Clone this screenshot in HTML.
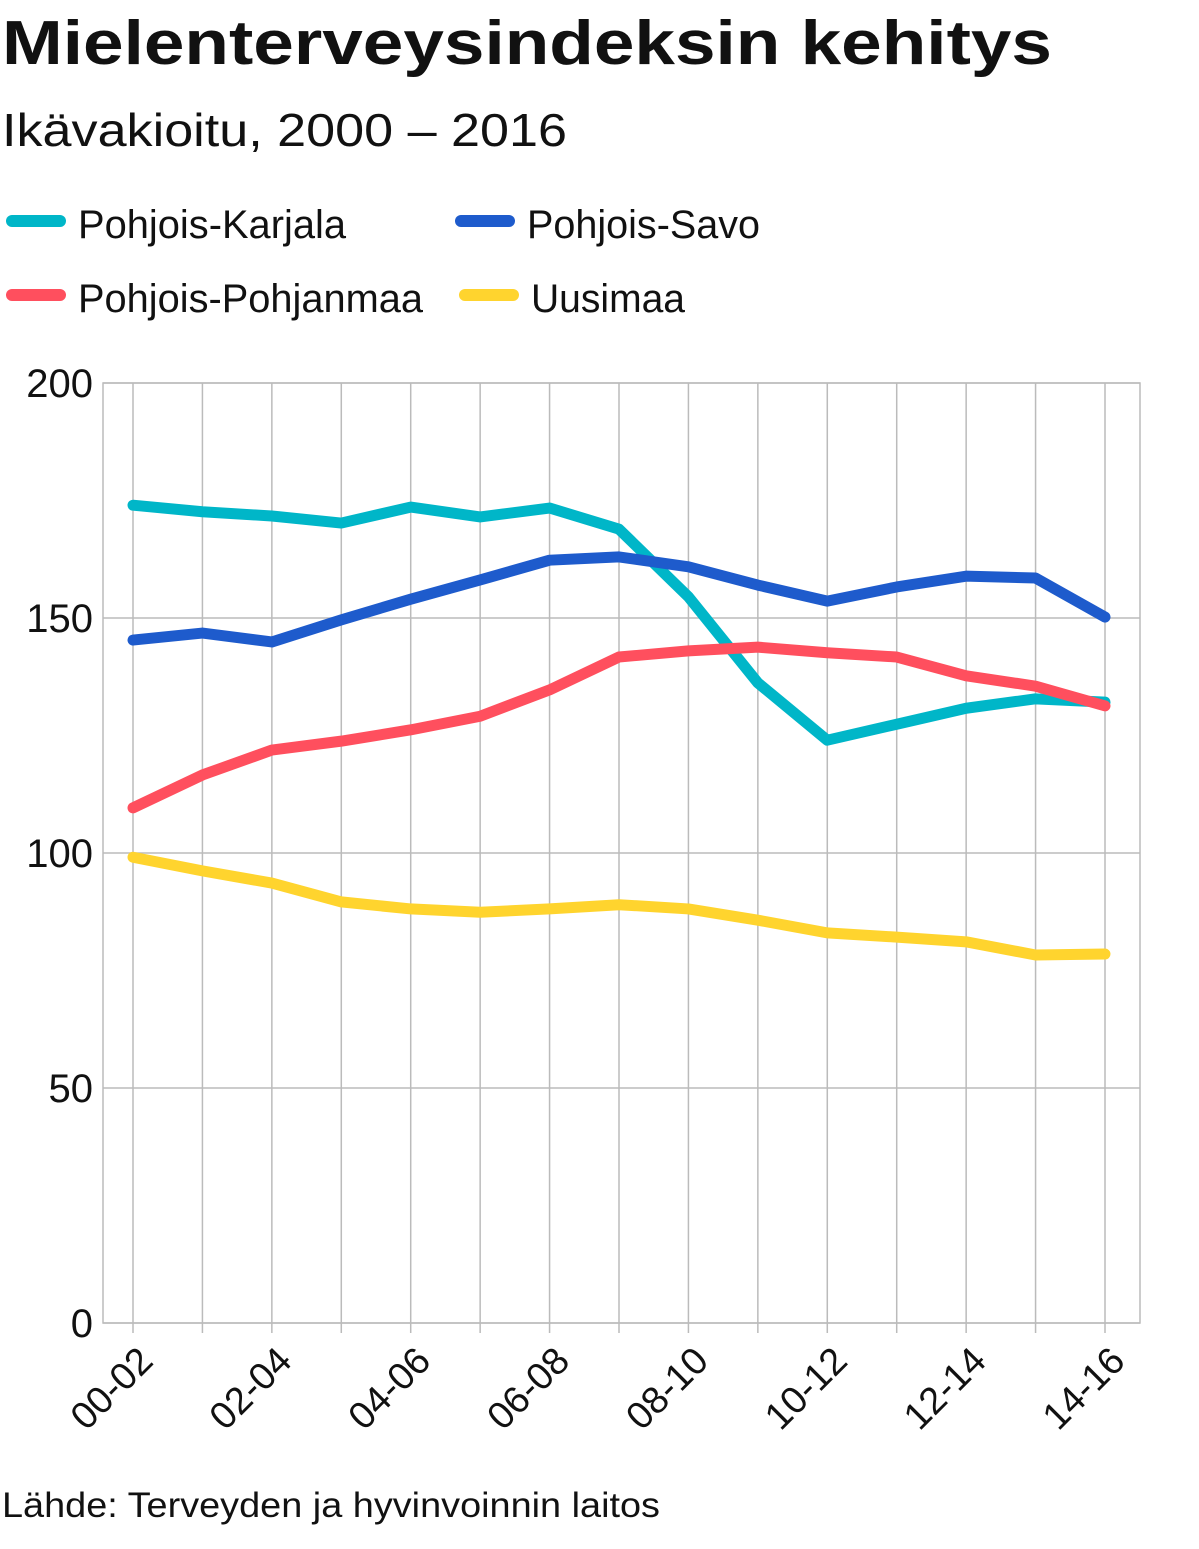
<!DOCTYPE html>
<html><head><meta charset="utf-8"><style>
html,body{margin:0;padding:0;background:#fff;}
svg{display:block;font-family:"Liberation Sans",sans-serif;}
</style></head><body>
<svg id="chart" width="1199" height="1549" viewBox="0 0 1199 1549" xmlns="http://www.w3.org/2000/svg">
<text x="2" y="64" font-size="62" font-weight="bold" textLength="1050" lengthAdjust="spacingAndGlyphs" fill="#111">Mielenterveysindeksin kehitys</text>
<text x="2" y="146" font-size="46" textLength="565" lengthAdjust="spacingAndGlyphs" fill="#111">Ikävakioitu, 2000 – 2016</text>
<g>
<line x1="12" y1="221" x2="60" y2="221" stroke="#00B6C8" stroke-width="12" stroke-linecap="round"/>
<text x="78" y="238" font-size="40" textLength="268" lengthAdjust="spacingAndGlyphs" fill="#111">Pohjois-Karjala</text>
<line x1="461" y1="221" x2="509" y2="221" stroke="#1E5BCC" stroke-width="12" stroke-linecap="round"/>
<text x="527" y="238" font-size="40" textLength="233" lengthAdjust="spacingAndGlyphs" fill="#111">Pohjois-Savo</text>
<line x1="12" y1="295" x2="60" y2="295" stroke="#FF4F5E" stroke-width="12" stroke-linecap="round"/>
<text x="78" y="312" font-size="40" textLength="345" lengthAdjust="spacingAndGlyphs" fill="#111">Pohjois-Pohjanmaa</text>
<line x1="465" y1="295" x2="513" y2="295" stroke="#FFD42E" stroke-width="12" stroke-linecap="round"/>
<text x="531" y="312" font-size="40" textLength="154" lengthAdjust="spacingAndGlyphs" fill="#111">Uusimaa</text>
</g>
<g id="grid"></g>
<g id="axes"></g>
<g id="series"></g>
<text x="2" y="1517" font-size="35" textLength="658" lengthAdjust="spacingAndGlyphs" fill="#111">Lähde: Terveyden ja hyvinvoinnin laitos</text>
</svg>
<script>
const categories=["00-02","01-03","02-04","03-05","04-06","05-07","06-08","07-09","08-10","09-11","10-12","11-13","12-14","13-15","14-16"];
const karjala=[174,172.6,171.7,170.2,173.6,171.5,173.4,168.9,154.5,136.2,124,127.4,130.8,132.8,132.1];
const savo=[145.3,146.8,144.9,149.6,154.0,158.1,162.3,163,160.9,157,153.6,156.6,158.9,158.5,150.2];
const pohjanmaa=[109.6,116.6,121.9,123.8,126.2,129.1,134.7,141.7,143,143.8,142.6,141.7,137.7,135.5,131.3];
const uusimaa=[99.1,96.2,93.6,89.6,88.1,87.4,88.1,89,88.1,85.7,83,82.1,81.1,78.3,78.5];
const yTicks=[0,50,100,150,200];
const NS="http://www.w3.org/2000/svg";
const L=103,R=1140,T=383,B=1323,x0=133,x1=1105;
const xs=i=>x0+(x1-x0)*i/(categories.length-1);
const ys=v=>B-(B-T)*v/200;
function mk(tag,attrs,parent){const e=document.createElementNS(NS,tag);for(const k in attrs)e.setAttribute(k,attrs[k]);parent.appendChild(e);return e;}
const grid=document.getElementById('grid'),axes=document.getElementById('axes'),series=document.getElementById('series');
let fr=mk('rect',{x:L,y:T,width:R-L,height:B-T,fill:'none',stroke:'#bbb','stroke-width':1.5},grid);


yTicks.forEach(v=>{
 const g=mk('line',{x1:L,x2:R,y1:ys(v),y2:ys(v),stroke:'#bbb','stroke-width':1.5},grid);
 
 
 const t=mk('text',{x:93,y:ys(v)+14,'font-size':40,'text-anchor':'end',fill:'#111'},axes);
 
 
 t.textContent=v;
});
categories.forEach((c,i)=>{
 const g=mk('line',{x1:xs(i),x2:xs(i),y1:T,y2:B+10,stroke:'#bbb','stroke-width':1.5},grid);
 
 
 if(i%2===0){
  const t=mk('text',{x:0,y:0,'font-size':38,'text-anchor':'end',fill:'#111',transform:`translate(${xs(i)+22},${B+40}) rotate(-45)`},axes);
  
  
  t.textContent=c;
 }
});
[["line-pohjois-karjala",karjala,"#00B6C8"],["line-pohjois-savo",savo,"#1E5BCC"],["line-pohjois-pohjanmaa",pohjanmaa,"#FF4F5E"],["line-uusimaa",uusimaa,"#FFD42E"]].forEach(([n,d,c])=>{
 const p=mk('polyline',{points:d.map((v,i)=>xs(i)+','+ys(v)).join(' '),fill:'none',stroke:c,'stroke-width':11,'stroke-linejoin':'round','stroke-linecap':'round'},series);
 
 
});
</script>
</body></html>
